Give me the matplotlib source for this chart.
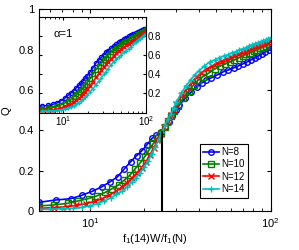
import numpy as np
import matplotlib
matplotlib.use("Agg")
import matplotlib.pyplot as plt

plt.rcParams['font.family'] = ['Liberation Sans', 'DejaVu Sans']
plt.rcParams['mathtext.fontset'] = 'custom'
plt.rcParams['mathtext.rm'] = 'Liberation Sans'
plt.rcParams['mathtext.it'] = 'Liberation Sans:italic'

# main panel: scaled disorder f1(14)W/f1(N) vs Q
labels = ["N=8", "N=10", "N=12", "N=14"]
colors = ["#0000ff", "#008000", "#ff0000", "#00bfbf"]
markers = ["o", "s", "x", "+"]

x_n8 = [5.2, 6.5, 7.8, 9.0, 10.3, 11.6, 12.9, 14.2, 15.5, 16.8, 18.1, 19.4, 20.7, 22.0,
        23.3, 24.6, 25.9, 27.2, 28.5, 29.8, 31.1, 33.7, 36.3, 38.9, 41.5, 44.1, 46.7,
        50.6, 54.5, 58.4, 62.3, 66.2, 70.1, 74.0, 77.9, 81.8, 85.7, 89.6, 93.5, 97.4, 101.3]
q_n8 = [0.043, 0.055, 0.061, 0.078, 0.098, 0.12, 0.145, 0.17, 0.21, 0.245, 0.275, 0.30, 0.33, 0.36,
        0.375, 0.39, 0.415, 0.44, 0.47, 0.50, 0.525, 0.56, 0.59, 0.615, 0.635, 0.65, 0.66,
        0.675, 0.69, 0.70, 0.71, 0.72, 0.73, 0.74, 0.75, 0.76, 0.77, 0.78, 0.79, 0.80, 0.81]

x_n10 = [5.2, 6.3, 7.5, 8.6, 9.8, 10.9, 12.1, 13.2, 14.4, 15.5, 16.7, 17.8, 19.0, 20.1, 21.3,
         22.4, 23.6, 24.7, 25.9, 27.0, 28.2, 29.3, 30.5, 32.8, 35.1, 37.4, 39.7, 42.0, 45.5,
         49.0, 52.5, 56.0, 59.5, 63.0, 66.5, 70.0, 73.5, 77.0, 80.5, 84.0, 87.5, 91.0, 94.5, 98.0]
q_n10 = [0.025, 0.03, 0.038, 0.05, 0.062, 0.075, 0.092, 0.11, 0.13, 0.154, 0.18, 0.21, 0.24, 0.27, 0.305,
         0.335, 0.36, 0.385, 0.415, 0.445, 0.47, 0.495, 0.52, 0.56, 0.595, 0.625, 0.65, 0.665, 0.685,
         0.705, 0.72, 0.73, 0.74, 0.75, 0.76, 0.77, 0.78, 0.785, 0.795, 0.80, 0.81, 0.815, 0.82, 0.83]

x_n12 = [5.2, 6.3, 7.4, 8.4, 9.5, 10.6, 11.7, 12.8, 13.9, 15.0, 16.0, 17.1, 18.2, 19.3, 20.4,
         21.5, 22.6, 23.6, 24.7, 25.8, 26.9, 28.0, 29.1, 30.1, 32.3, 34.5, 36.6, 38.8, 41.0,
         44.2, 47.5, 50.7, 54.0, 57.2, 60.5, 63.7, 67.0, 70.2, 73.5, 76.7, 80.0, 83.2, 86.4,
         89.7, 92.9, 96.2, 99.4]
q_n12 = [0.013, 0.017, 0.022, 0.028, 0.036, 0.048, 0.062, 0.079, 0.098, 0.118, 0.14, 0.165, 0.19, 0.215, 0.245,
         0.28, 0.315, 0.35, 0.38, 0.415, 0.445, 0.475, 0.50, 0.53, 0.575, 0.61, 0.64, 0.665, 0.685,
         0.705, 0.72, 0.735, 0.745, 0.755, 0.765, 0.775, 0.78, 0.79, 0.795, 0.805, 0.81, 0.82, 0.825,
         0.83, 0.835, 0.84, 0.845]

x_n14 = [5.2, 6, 7, 8, 9, 10, 11, 12, 13, 14, 15, 16, 17, 18, 19, 20, 21, 22, 23, 24, 25, 26, 27,
         28, 29, 30, 32, 34, 36, 38, 40, 43, 46, 49, 52, 55, 58, 61, 64, 67, 70, 73, 76, 79, 82,
         85, 88, 91, 94, 97, 100]
q_n14 = [0.008, 0.009, 0.011, 0.013, 0.018, 0.026, 0.036, 0.05, 0.065, 0.082, 0.098, 0.12, 0.142, 0.165,
         0.19, 0.22, 0.25, 0.285, 0.32, 0.355, 0.39, 0.425, 0.455, 0.48, 0.51, 0.54, 0.585, 0.62, 0.65,
         0.675, 0.695, 0.72, 0.74, 0.75, 0.76, 0.77, 0.775, 0.785, 0.79, 0.80, 0.805, 0.81, 0.82, 0.825,
         0.83, 0.835, 0.84, 0.845, 0.85, 0.855, 0.86]

x_cross = 25
q_cross = 0.39

# inset: alpha = 1, raw W
w_in = [5.5, 6.5, 7.5, 8.5, 9.5, 10.5, 11.5, 12.5, 13.5, 14.5, 15.5, 16.5, 17.5, 18.5, 19.5,
        21, 23, 25, 27, 29, 31, 33, 35, 38, 41, 44, 47, 50, 54, 58, 62, 66, 70, 75, 80, 85, 90, 95, 100]
qin_n8 = [0.068, 0.074, 0.085, 0.10, 0.125, 0.15, 0.18, 0.205, 0.23, 0.26, 0.285, 0.31, 0.335, 0.36, 0.385,
          0.42, 0.47, 0.52, 0.55, 0.58, 0.605, 0.63, 0.65, 0.675, 0.695, 0.715, 0.735, 0.75, 0.77, 0.785,
          0.80, 0.81, 0.82, 0.83, 0.845, 0.855, 0.865, 0.875, 0.88]
qin_n10 = [0.04, 0.045, 0.052, 0.063, 0.08, 0.10, 0.12, 0.14, 0.165, 0.19, 0.215, 0.24, 0.265, 0.29, 0.315,
           0.35, 0.40, 0.45, 0.485, 0.52, 0.55, 0.575, 0.60, 0.63, 0.655, 0.675, 0.695, 0.715, 0.735, 0.75,
           0.765, 0.78, 0.79, 0.805, 0.82, 0.83, 0.845, 0.855, 0.865]
qin_n12 = [0.025, 0.027, 0.031, 0.038, 0.048, 0.06, 0.074, 0.09, 0.11, 0.13, 0.15, 0.17, 0.195, 0.22, 0.245,
           0.28, 0.325, 0.37, 0.41, 0.445, 0.475, 0.505, 0.535, 0.565, 0.595, 0.62, 0.645, 0.665, 0.685, 0.705,
           0.72, 0.735, 0.75, 0.765, 0.785, 0.80, 0.82, 0.835, 0.85]
qin_n14 = [0.015, 0.016, 0.018, 0.022, 0.028, 0.036, 0.046, 0.058, 0.072, 0.087, 0.103, 0.12, 0.14, 0.16, 0.18,
           0.21, 0.25, 0.293, 0.33, 0.365, 0.40, 0.43, 0.46, 0.50, 0.53, 0.56, 0.585, 0.605, 0.63, 0.65,
           0.67, 0.69, 0.72, 0.74, 0.76, 0.775, 0.795, 0.81, 0.82]

main_x = [x_n8, x_n10, x_n12, x_n14]
main_q = [q_n8, q_n10, q_n12, q_n14]
inset_q = [qin_n8, qin_n10, qin_n12, qin_n14]

fig = plt.figure(figsize=(2.99, 2.5), dpi=100)
ax = fig.add_axes([0.130, 0.156, 0.775, 0.806])

for xs, qs, c, m, lab in zip(main_x, main_q, colors, markers, labels):
    ax.plot(xs, qs, color=c, marker=m, ms=4, mew=1, mfc='none', lw=1.2, label=lab)
ax.plot([x_cross, x_cross], [0, q_cross], color='k', lw=1.5)

ax.set_xscale('log')
ax.set_xlim(5.2, 100)
ax.set_ylim(0, 1)
ax.set_yticks([0, 0.2, 0.4, 0.6, 0.8, 1])
ax.set_yticklabels(["0", "0.2", "0.4", "0.6", "0.8", "1"])
ax.tick_params(which='both', direction='in', top=True, right=True, labelsize=8)
ax.tick_params(which='major', length=3)
ax.tick_params(which='minor', length=2)
ax.set_xlabel("f$_1$(14)W/f$_1$(N)", fontsize=8, labelpad=2)
ax.set_ylabel("Q", fontsize=8, labelpad=5)

leg = ax.legend(loc='lower right', bbox_to_anchor=(0.904, 0.066), borderaxespad=0,
                fontsize=7, handlelength=1.6, handletextpad=0.3, labelspacing=0.25,
                borderpad=0.35, fancybox=False, framealpha=1)
leg.get_frame().set_edgecolor('k')
leg.get_frame().set_linewidth(0.8)

# inset
axi = fig.add_axes([0.130, 0.550, 0.358, 0.381])
for qs, c, m in zip(inset_q, colors, markers):
    axi.plot(w_in, qs, color=c, marker=m, ms=3, mew=1, mfc='none', lw=1)
axi.set_xscale('log')
axi.set_xlim(5.1, 100)
axi.set_ylim(0, 1)
axi.set_yticks([0.2, 0.4, 0.6, 0.8])
axi.tick_params(which='both', direction='in', top=True, right=True, left=True,
                labelleft=False, labelright=True, labelsize=7, pad=1.5)
axi.tick_params(which='major', length=2.5)
axi.tick_params(which='minor', length=1.5)
axi.text(0.14, 0.79, "\u03b1=1", transform=axi.transAxes, fontsize=8)

fig.savefig("out.png", dpi=100)
